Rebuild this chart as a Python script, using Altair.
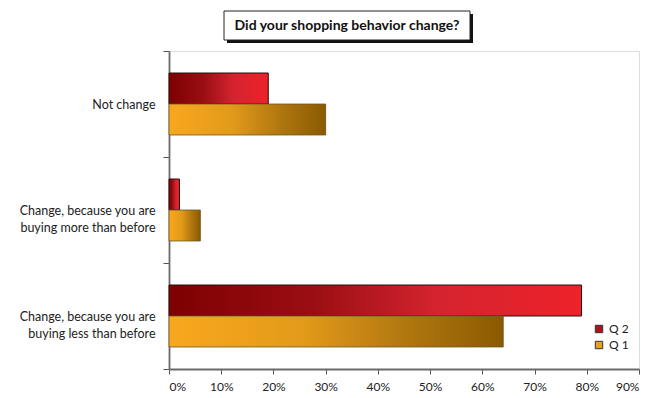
import altair as alt
import pandas as pd

categories = ["Not change",
              "Change, because you are buying more than before",
              "Change, because you are buying less than before"]
series = ["Q 2", "Q 1"]
q2_values = [0.19, 0.02, 0.79]
q1_values = [0.30, 0.06, 0.64]
title_text = "Did your shopping behavior change?"

rows = []
for c, a, b in zip(categories, q2_values, q1_values):
    rows.append({"cat": c, "series": "Q 2", "value": a})
    rows.append({"cat": c, "series": "Q 1", "value": b})
df = pd.DataFrame(rows)

FONT = "Lato"
label_expr = ("datum.value == '" + categories[1] + "' ? ['Change, because you are', 'buying more than before'] : "
              "datum.value == '" + categories[2] + "' ? ['Change, because you are', 'buying less than before'] : "
              "datum.label")

y_enc = alt.Y("cat:N", sort=categories, title=None,
              scale=alt.Scale(paddingInner=0, paddingOuter=0),
              axis=alt.Axis(labelExpr=label_expr, tickBand="extent", labelFont=FONT,
                            labelFontSize=12.5, labelColor="#222", labelPadding=8,
                            domainColor="#6a6a6a", domainWidth=1.8, tickColor="#555",
                            tickSize=6, labelLineHeight=17))
x_enc = alt.X("value:Q", title=None,
              scale=alt.Scale(domain=[0, 0.9], nice=False),
              axis=alt.Axis(format="%", values=[0, 0.1, 0.2, 0.3, 0.4, 0.5, 0.6, 0.7, 0.8, 0.9],
                            labelFont=FONT, labelFontSize=12, labelColor="#222",
                            grid=False, domainColor="#6a6a6a", domainWidth=1.8,
                            tickColor="#555", tickSize=5, labelPadding=7))
yoff = alt.YOffset("series:N", sort=series,
                   scale=alt.Scale(paddingInner=0, paddingOuter=0.71))

base = alt.Chart(df)

legend_layer = base.mark_bar().encode(
    x=x_enc, y=y_enc, yOffset=yoff,
    color=alt.Color("series:N", sort=series,
                    scale=alt.Scale(domain=series, range=["#B0101A", "#E8A020"]),
                    legend=alt.Legend(title=None, orient="none", legendX=424, legendY=272,
                                      symbolType="square", symbolSize=55,
                                      symbolStrokeColor="#333", symbolStrokeWidth=1,
                                      labelFont=FONT, labelFontSize=12, labelColor="#222",
                                      rowPadding=4, labelOffset=4))
)

grad_q2 = alt.Gradient(gradient="linear", x1=0, x2=1, y1=0, y2=0,
                       stops=[alt.GradientStop(offset=0, color="#7E0000"),
                              alt.GradientStop(offset=0.35, color="#9A0E12"),
                              alt.GradientStop(offset=0.65, color="#D42430"),
                              alt.GradientStop(offset=1, color="#EE2229")])
grad_q1 = alt.Gradient(gradient="linear", x1=0, x2=1, y1=0, y2=0,
                       stops=[alt.GradientStop(offset=0, color="#F8A81E"),
                              alt.GradientStop(offset=0.4, color="#E39A1A"),
                              alt.GradientStop(offset=0.7, color="#B27810"),
                              alt.GradientStop(offset=1, color="#8A5A00")])

q2_layer = base.transform_filter(alt.datum.series == "Q 2").mark_bar(
    fill=grad_q2, stroke="#2a1010", strokeWidth=1).encode(x=x_enc, y=y_enc, yOffset=yoff)
q1_layer = base.transform_filter(alt.datum.series == "Q 1").mark_bar(
    fill=grad_q1, stroke="#6a5530", strokeWidth=0.8).encode(x=x_enc, y=y_enc, yOffset=yoff)

one = alt.Chart(pd.DataFrame({"a": [0]}))
shadow = one.mark_rect(fill="#111").encode(
    x=alt.value(58), x2=alt.value(304), y=alt.value(-37), y2=alt.value(-8))
box = one.mark_rect(fill="white", stroke="#222", strokeWidth=1).encode(
    x=alt.value(55), x2=alt.value(301), y=alt.value(-40), y2=alt.value(-11))
title = one.mark_text(font=FONT, fontSize=14, fontWeight="bold", color="#111",
                      align="center", baseline="middle").encode(
    x=alt.value(178), y=alt.value(-25.5), text=alt.value(title_text))

chart = alt.layer(legend_layer, q2_layer, q1_layer, shadow, box, title).properties(
    width=470, height=318,
    autosize=alt.AutoSizeParams(type="none"),
    padding={"left": 169, "top": 51, "right": 13, "bottom": 29},
).configure_view(stroke=None).configure(background="white")

chart.save("out.html", embed_options={"renderer": "svg", "actions": False})
